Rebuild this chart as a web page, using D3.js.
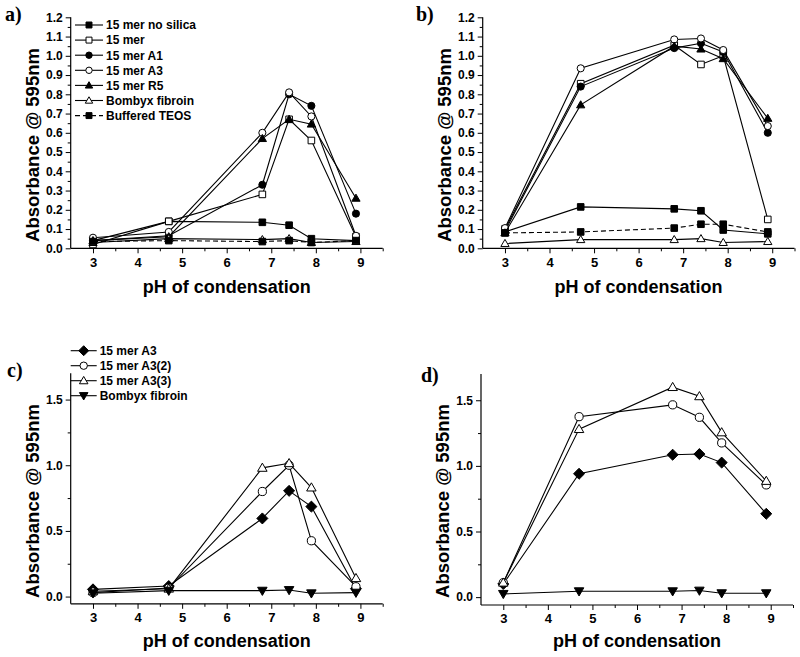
<!DOCTYPE html>
<html><head><meta charset="utf-8">
<script src="https://cdn.jsdelivr.net/npm/d3@7/dist/d3.min.js"></script>
<style>body{margin:0;background:#fff}</style>
</head><body>
<svg id="chart" width="800" height="657"></svg>
<script>
// ---------- data ----------
const pH = [3, 4.7, 6.8, 7.4, 7.9, 8.9];
const xTicks = [3, 4, 5, 6, 7, 8, 9];
const xMinor = [3.5, 4.5, 5.5, 6.5, 7.5, 8.5, 9.5];
const yTicksAB = [0, 0.1, 0.2, 0.3, 0.4, 0.5, 0.6, 0.7, 0.8, 0.9, 1.0, 1.1, 1.2];
const yMinorAB = [0.05, 0.15, 0.25, 0.35, 0.45, 0.55, 0.65, 0.75, 0.85, 0.95, 1.05, 1.15];
const yTicksCD = [0, 0.5, 1.0, 1.5];
const yMinorCD = [0.25, 0.75, 1.25];

const legendAB = ["15 mer no silica", "15 mer", "15 mer A1", "15 mer A3", "15 mer R5", "Bombyx fibroin", "Buffered TEOS"];
const legendCD = ["15 mer A3", "15 mer A3(2)", "15 mer A3(3)", "Bombyx fibroin"];

// panel a
const aNoSilica = [0.04, 0.14, 0.135, 0.12, 0.05, 0.04];
const a15mer    = [0.02, 0.14, 0.28, 0.67, 0.56, 0.06];
const aA1       = [0.04, 0.065, 0.33, 0.80, 0.74, 0.18];
const aA3       = [0.055, 0.085, 0.60, 0.81, 0.685, 0.065];
const aR5       = [0.04, 0.06, 0.57, 0.67, 0.645, 0.26];
const aBombyx   = [0.03, 0.05, 0.045, 0.05, 0.03, 0.035];
const aTEOS     = [0.035, 0.04, 0.035, 0.04, 0.03, 0.04];

// panel b
const bNoSilica = [0.085, 0.215, 0.205, 0.195, 0.095, 0.075];
const b15mer    = [0.10, 0.855, 1.055, 0.955, 1.0, 0.15];
const bA1       = [0.09, 0.84, 1.04, 1.065, 1.02, 0.60];
const bA3       = [0.105, 0.935, 1.085, 1.09, 1.03, 0.635];
const bR5       = [0.08, 0.745, 1.05, 1.035, 0.985, 0.675];
const bBombyx   = [0.025, 0.045, 0.045, 0.05, 0.03, 0.035];
const bTEOS     = [0.08, 0.085, 0.105, 0.125, 0.125, 0.085];

// panel c
const cA3     = [0.055, 0.08, 0.595, 0.805, 0.685, 0.06];
const cA3_2   = [0.03, 0.065, 0.80, 1.0, 0.425, 0.075];
const cA3_3   = [0.04, 0.06, 0.98, 1.015, 0.83, 0.14];
const cBombyx = [0.025, 0.045, 0.045, 0.05, 0.025, 0.03];

// panel d
const dA3     = [0.10, 0.94, 1.085, 1.09, 1.025, 0.635];
const dA3_2   = [0.11, 1.375, 1.465, 1.37, 1.175, 0.855];
const dA3_3   = [0.11, 1.28, 1.60, 1.53, 1.255, 0.885];
const dBombyx = [0.025, 0.045, 0.045, 0.05, 0.03, 0.03];

// ---------- styles ----------
const styleAB = [
  {shape: "square", fill: "#000", dash: null},
  {shape: "square", fill: "#fff", dash: null},
  {shape: "circle", fill: "#000", dash: null},
  {shape: "circle", fill: "#fff", dash: null},
  {shape: "tri", fill: "#000", dash: null},
  {shape: "tri", fill: "#fff", dash: null},
  {shape: "square", fill: "#000", dash: "5,3"}
];
const styleCD = [
  {shape: "diamond", fill: "#000", dash: null},
  {shape: "circle", fill: "#fff", dash: null},
  {shape: "tri", fill: "#fff", dash: null},
  {shape: "dtri", fill: "#000", dash: null}
];

const svg = d3.select("#chart");
const SANS = "'Liberation Sans', Arial, Helvetica, sans-serif";
const SERIF = "'Liberation Serif', 'Times New Roman', serif";

function markerPath(shape, s) {
  const p = d3.path();
  if (shape === "square") { p.rect(-s, -s, 2 * s, 2 * s); }
  else if (shape === "circle") { p.arc(0, 0, s * 1.08, 0, 2 * Math.PI); }
  else if (shape === "tri") { p.moveTo(0, -s * 1.25); p.lineTo(s * 1.25, s * 0.9); p.lineTo(-s * 1.25, s * 0.9); p.closePath(); }
  else if (shape === "dtri") { p.moveTo(0, s * 1.25); p.lineTo(s * 1.25, -s * 0.9); p.lineTo(-s * 1.25, -s * 0.9); p.closePath(); }
  else if (shape === "diamond") { p.moveTo(0, -s * 1.45); p.lineTo(s * 1.45, 0); p.lineTo(0, s * 1.45); p.lineTo(-s * 1.45, 0); p.closePath(); }
  return p.toString();
}

function drawPanel(cfg) {
  const g = svg.append("g");
  const x = d3.scaleLinear().domain([2.5, 9.5]).range([cfg.x0, cfg.x1]);
  const y = d3.scaleLinear().domain(cfg.yDomain).range([cfg.yBot, cfg.yTop]);

  // axes
  const yAx = g.append("g").attr("transform", `translate(${cfg.x0},0)`)
    .call(d3.axisLeft(y).tickValues(cfg.yTicks).tickSize(5).tickPadding(3)
      .tickFormat(d => d.toFixed(1)));
  g.append("g").attr("transform", `translate(${cfg.x0},0)`)
    .call(d3.axisLeft(y).tickValues(cfg.yMinor).tickSize(3).tickFormat(""))
    .select(".domain").remove();
  const xAx = g.append("g").attr("transform", `translate(0,${cfg.yBot})`)
    .call(d3.axisBottom(x).tickValues(xTicks).tickSize(5).tickPadding(4).tickFormat(d3.format("d")));
  g.append("g").attr("transform", `translate(0,${cfg.yBot})`)
    .call(d3.axisBottom(x).tickValues(xMinor).tickSize(3).tickFormat(""))
    .select(".domain").remove();
  g.selectAll(".domain").attr("stroke", "#000").attr("stroke-width", 1.2)
    .attr("d", function() { return d3.select(this).attr("d"); });
  yAx.select(".domain").attr("d", `M-0,${cfg.yTop}V${cfg.yBot}`);
  xAx.select(".domain").attr("d", `M${cfg.x0},0H${cfg.x1}`);
  g.selectAll(".tick line").attr("stroke", "#000").attr("stroke-width", 1);
  yAx.selectAll("text").attr("font-family", SANS).attr("font-weight", "bold").attr("font-size", 12).attr("fill", "#000");
  xAx.selectAll("text").attr("font-family", SANS).attr("font-weight", "bold").attr("font-size", 13).attr("fill", "#000");

  // titles
  g.append("text").attr("transform", `translate(${cfg.x0 - 32},${cfg.yLabelY}) rotate(-90)`)
    .attr("text-anchor", "middle").attr("font-family", SANS).attr("font-weight", "bold")
    .attr("font-size", 18.5).text("Absorbance @ 595nm");
  g.append("text").attr("x", (cfg.x0 + cfg.x1) / 2).attr("y", cfg.xLabelY)
    .attr("text-anchor", "middle").attr("font-family", SANS).attr("font-weight", "bold")
    .attr("font-size", 18).text("pH of condensation");
  g.append("text").attr("x", cfg.tagX).attr("y", cfg.tagY)
    .attr("font-family", SERIF).attr("font-weight", "bold").attr("font-size", 20).text(cfg.tag);

  // series
  const line = d3.line().x((d, i) => x(pH[i])).y(d => y(d));
  cfg.series.forEach((vals, k) => {
    const st = cfg.styles[k];
    g.append("path").datum(vals).attr("d", line).attr("fill", "none")
      .attr("stroke", "#000").attr("stroke-width", 1.1)
      .attr("stroke-dasharray", st.dash);
    g.selectAll(null).data(vals).enter().append("path")
      .attr("transform", (d, i) => `translate(${x(pH[i])},${y(d)})`)
      .attr("d", markerPath(st.shape, cfg.ms))
      .attr("fill", st.fill).attr("stroke", "#000").attr("stroke-width", 1);
  });

  // legend
  if (cfg.legend) {
    const L = cfg.legend;
    cfg.legend.labels.forEach((lab, k) => {
      const st = cfg.styles[k];
      const yy = L.y0 + k * L.dy;
      g.append("line").attr("x1", L.x0).attr("x2", L.x1).attr("y1", yy).attr("y2", yy)
        .attr("stroke", "#000").attr("stroke-width", 1.1).attr("stroke-dasharray", st.dash);
      g.append("path").attr("transform", `translate(${(L.x0 + L.x1) / 2},${yy})`)
        .attr("d", markerPath(st.shape, cfg.ms * 0.9))
        .attr("fill", st.fill).attr("stroke", "#000").attr("stroke-width", 1);
      g.append("text").attr("x", L.x1 + 3).attr("y", yy + 4.3)
        .attr("font-family", SANS).attr("font-weight", "bold").attr("font-size", 12).text(lab);
    });
  }
}

drawPanel({tag: "a)", tagX: 5, tagY: 21, x0: 70.7, x1: 382.7, yTop: 17.3, yBot: 248.3, yDomain: [0, 1.2],
  yTicks: yTicksAB, yMinor: yMinorAB, yLabelY: 145, xLabelY: 293, ms: 3.3,
  series: [aNoSilica, a15mer, aA1, aA3, aR5, aBombyx, aTEOS], styles: styleAB,
  legend: {labels: legendAB, x0: 75, x1: 103, y0: 25, dy: 15.1}});
drawPanel({tag: "b)", tagX: 416, tagY: 21, x0: 482.7, x1: 794.5, yTop: 17.3, yBot: 248.3, yDomain: [0, 1.2],
  yTicks: yTicksAB, yMinor: yMinorAB, yLabelY: 145, xLabelY: 293, ms: 3.3,
  series: [bNoSilica, b15mer, bA1, bA3, bR5, bBombyx, bTEOS], styles: styleAB});
drawPanel({tag: "c)", tagX: 7, tagY: 377, x0: 70.7, x1: 382.7, yTop: 373.3, yBot: 603.8, yDomain: [-0.055, 1.7],
  yTicks: yTicksCD, yMinor: yMinorCD, yLabelY: 501, xLabelY: 647, ms: 3.8,
  series: [cA3, cA3_2, cA3_3, cBombyx], styles: styleCD,
  legend: {labels: legendCD, x0: 70.7, x1: 96.7, y0: 350.7, dy: 15}});
drawPanel({tag: "d)", tagX: 421, tagY: 382, x0: 481, x1: 793, yTop: 374, yBot: 605, yDomain: [-0.06, 1.7],
  yTicks: yTicksCD, yMinor: yMinorCD, yLabelY: 501, xLabelY: 647, ms: 3.8,
  series: [dA3, dA3_2, dA3_3, dBombyx], styles: styleCD});
</script>
</body></html>
